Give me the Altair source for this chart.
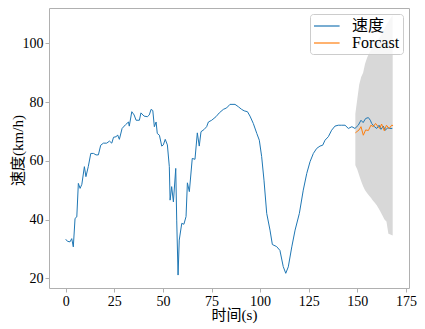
import altair as alt
import pandas as pd

# Observed speed (time in s, speed in km/h)
time = [0, 0.9, 2.2, 3.1, 3.9, 4.8, 5.7, 6.5, 7.4, 8.3, 9.6, 10.4, 11.6, 12.9, 14.3,
        15.6, 16.8, 18, 19.4, 21.1, 22.5, 23.7, 24.6, 26, 26.7, 27.6, 29.0, 30.8,
        32.3, 32.7, 34, 35.2, 36.2, 37.9, 38.7, 40.3, 42, 43, 43.9, 44.8, 45.6, 46.5,
        47.1, 48.2, 49.4, 50.2, 51.2, 52.3, 53.3, 53.7, 54.5, 55.4, 56.6, 57.1, 57.8,
        58.4, 59.7, 60.8, 61.9, 62.6, 63.6, 65.1, 66.5, 67.7, 68.7, 69.6, 71.1, 72.5,
        73.4, 75.1, 77.3, 79, 81.1, 82.8, 84.5, 87.1, 88.8, 90.5, 91.8, 93.5, 94.8,
        96.5, 98.3, 99.6, 100.8, 102, 103.4, 105.1, 106.3, 108.5, 110.2, 111.9, 113.2,
        114.5, 116.3, 118, 120.2, 122.2, 124, 125.7, 127.4, 129.1, 130.8, 132.2, 133.4,
        135.1, 136.8, 138.5, 140.2, 142, 143.7, 145.4, 147.2, 148.8, 150.5, 151.9, 153,
        154.3, 155.7, 156.7, 157.4, 158.8, 160, 161.2, 162.2, 163.4, 164.3, 165.7,
        166.8, 168]
speed = [33.3, 32.6, 32.4, 33.5, 30.7, 40.4, 40.9, 52.3, 50.6, 52, 58, 54.6, 58, 62.5, 62.5,
         62, 62, 65.3, 66, 66, 66.7, 66, 68, 68.2, 68.8, 67.3, 71.0, 72.3,
         73.2, 71.8, 76.7, 75.6, 73.8, 73.8, 76.3, 75.2, 75, 75.6, 77.5, 77.1, 71.6, 73.2,
         69.3, 68.7, 65, 65.4, 67.3, 65.4, 58, 46.6, 51.2, 46, 57.4, 39.8, 21.1,
         33, 38.7, 38.4, 41, 52.5, 49.5, 60.8, 60.5, 69.5, 65, 69.9, 70.6, 71.6,
         73.2, 73.8, 75, 76.3, 77.5, 78, 79.2, 79.2, 78.4, 77.5, 77.0, 76.7, 75.2,
         72.7, 69.3, 67, 61.4, 53.4, 42.1, 36.4, 31.5, 30.8, 29.5, 24.0, 21.7,
         23.9, 30.7, 36.4, 42.1, 50.0, 55.7, 59.7, 62.5, 64.2, 65, 65.3, 67,
         68.2, 70.4, 71.8, 72.1, 72.1, 72.1, 71, 71.6, 71, 72.1, 73.8, 73,
         74.4, 74.7, 73.8, 72.7, 71.6, 71, 72.1, 70.7, 71.8, 70.4, 71.2,
         71, 71]

# Forecast
fc_time = [149, 150.9, 151.9, 153.1, 154.3, 155.7, 157, 158.2, 159.4, 160.5, 161.5,
           162.5, 163.9, 165, 166.4, 167.7, 168.4]
fc_speed = [69.5, 70.5, 71.6, 68.7, 70.5, 70.3, 72.1, 71.6, 72.7, 71.8, 71,
            72.5, 70.2, 72.1, 71, 72.1, 72]

# Confidence band
band_time = [149, 150, 151, 152, 153, 154, 155, 156, 157, 158, 159, 160, 161, 162,
             163, 164, 165, 166, 167, 168.2]
band_upper = [76, 81, 86, 88.5, 90, 93, 95, 96.5, 97.8, 98.7, 99.6, 100.5, 101.5, 102.5,
              103.8, 105, 106.3, 107.3, 108.4, 109.6]
band_lower = [58.5, 57, 55, 53, 51.3, 50, 49, 48.2, 47.4, 46.5, 45.7, 44.9, 43.8, 42.6,
              41.3, 40, 39.3, 35.2, 34.9, 34.6]

series_names = ["速度", "Forcast"]
series_colors = ["#1f77b4", "#ff7f0e"]
x_ticks = [0, 25, 50, 75, 100, 125, 150, 175]
y_ticks = [20, 40, 60, 80, 100]

lines_df = pd.concat([
    pd.DataFrame({"t": time, "v": speed, "series": series_names[0], "k": 0}),
    pd.DataFrame({"t": fc_time, "v": fc_speed, "series": series_names[1], "k": 1}),
], ignore_index=True)
band_df = pd.DataFrame({"t": band_time, "upper": band_upper, "lower": band_lower})

FONT = "Liberation Serif, Noto Sans CJK SC"

xscale = alt.Scale(domain=[-8.6, 176.6], nice=False, zero=False)
yscale = alt.Scale(domain=[16.7, 112.0], nice=False, zero=False)
xaxis = alt.Axis(values=x_ticks, title="时间(s)", format="d",
                 titleX=185, titleY=19, titleBaseline="top")
yaxis = alt.Axis(values=y_ticks, title="速度(km/h)", format="d",
                 titleX=-24, titleY=142, titleBaseline="bottom")

band = alt.Chart(band_df).mark_area(color="#d8d8d8", opacity=1).encode(
    x=alt.X("t:Q", scale=xscale, axis=xaxis),
    y=alt.Y("upper:Q", scale=yscale, axis=yaxis),
    y2="lower:Q",
)

lines = alt.Chart(lines_df).mark_line(strokeWidth=1.0).encode(
    x=alt.X("t:Q", scale=xscale, axis=xaxis),
    y=alt.Y("v:Q", scale=yscale, axis=yaxis),
    color=alt.Color("series:N",
                    scale=alt.Scale(domain=series_names, range=series_colors),
                    sort=series_names,
                    legend=alt.Legend(title=None)),
    order="k:Q",
)

chart = alt.layer(band, lines).properties(
    width=360, height=280,
    autosize=alt.AutoSizeParams(type="none"),
    padding={"left": 41, "top": 0, "right": 8, "bottom": 41},
).configure_view(
    stroke="#b0b0b0", strokeWidth=1
).configure_axis(
    grid=False, domain=False,
    tickColor="#b0b0b0", tickSize=4, labelPadding=2,
    labelFont=FONT, labelFontSize=14, labelColor="black",
    titleFont=FONT, titleFontSize=15, titleFontWeight="normal", titleColor="black",
).configure_legend(
    orient="top-right", offset=6,
    fillColor="rgba(255,255,255,0.8)", strokeColor="#cccccc", cornerRadius=3,
    padding=3, rowPadding=0,
    labelFont=FONT, labelFontSize=16, labelColor="black",
    symbolType="M-1,0L2.2,0", symbolSize=256, symbolStrokeWidth=1.2, labelOffset=21,
)

chart.save("out.html", embed_options={"renderer": "svg", "actions": False})
